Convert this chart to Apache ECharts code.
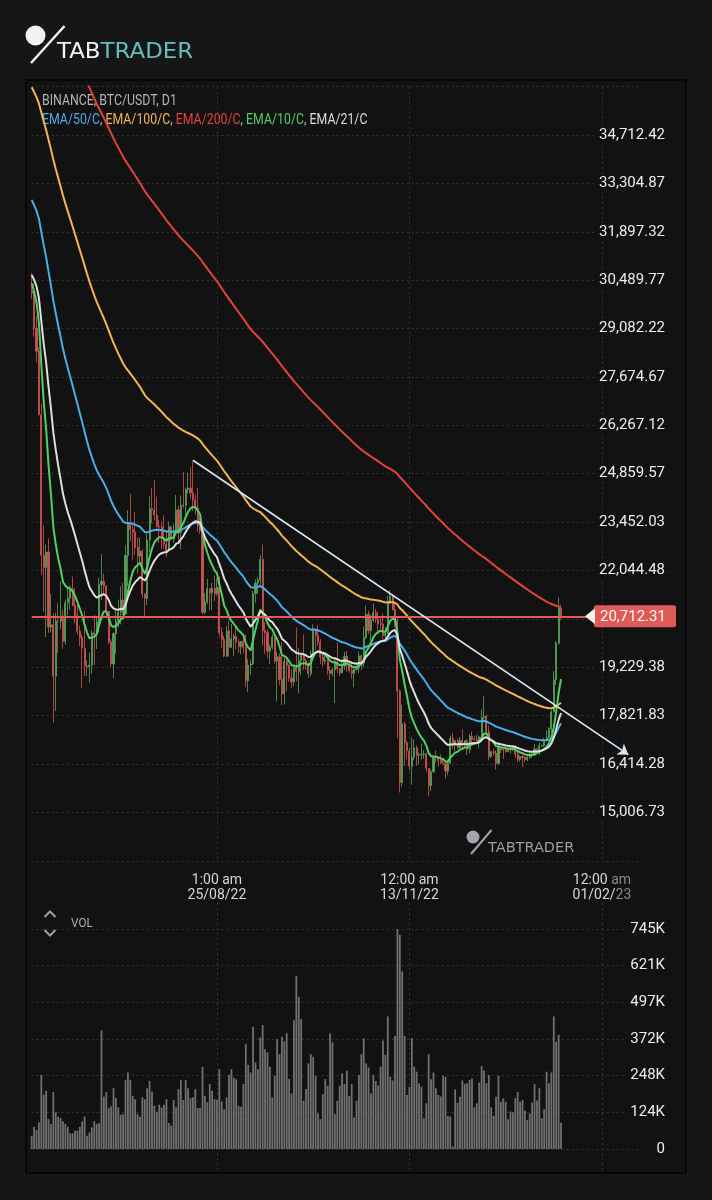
<!DOCTYPE html>
<html>
<head>
<meta charset="utf-8">
<title>BTC/USDT D1</title>
<script src="https://cdn.jsdelivr.net/npm/echarts@6.0.0/dist/echarts.min.js"></script>
<style>
html, body { margin: 0; padding: 0; background: #161616; }
#main { width: 712px; height: 1200px; }
</style>
</head>
<body>
<div id="main"></div>
<script>
// BINANCE BTC/USDT daily candles, 2022-06-09 .. 2023-01-15 (221 days)
var firstDay = '2022-06-09';
// category slots on the time axis, runs past the last candle to leave room on the right
var axisDays = 253;

var openPrices = [
    // Jun
    30186, 30109, 29091, 28424, 26574, 22487, 22136, 22583, 20401, 20468, 18970, 20574, 20573, 20723, 19987, 21110, 21237, 21491, 21038, 20742, 20281, 20104,
    // Jul
    19785, 19269, 19243, 19297, 20231, 20190, 20548, 21637, 21731, 21592, 20860, 19970, 19329, 20212, 20569, 20836, 21190, 20779, 22485, 23390, 23231, 23164, 22714, 22465, 22609, 21361, 21239, 22930, 23843, 23804, 23656,
    // Aug
    23336, 23314, 22978, 22818, 22622, 23312, 22954, 23175, 23810, 23149, 23954, 23934, 24403, 24441, 24305, 24094, 23854, 23342, 23191, 20834, 21140, 21516, 21399, 21529, 21368, 21560, 20241, 20037, 19555, 20285, 19811,
    // Sep
    20050, 20127, 19969, 19832, 19986, 19812, 18837, 19290, 19329, 21381, 21680, 21769, 22370, 20296, 20241, 19701, 19803, 20113, 19416, 19537, 18875, 18461, 19401, 19289, 18920, 18807, 19222, 19110, 19426, 19573,
    // Oct
    19431, 19312, 19044, 19623, 20336, 20160, 19955, 19531, 19417, 19446, 19141, 19051, 19157, 19382, 19185, 19067, 19268, 19550, 19334, 19139, 19053, 19172, 19207, 19567, 19345, 20095, 20771, 20295, 20595, 20818, 20635,
    // Nov
    20495, 20485, 20159, 20209, 21148, 21300, 20905, 20591, 18541, 15880, 17586, 17035, 16800, 16353, 16618, 16884, 16670, 16688, 16697, 16711, 16291, 15787, 16189, 16610, 16604, 16521, 16458, 16428, 16212, 16442,
    // Dec
    17163, 16977, 17092, 16885, 17105, 16966, 17088, 16836, 17224, 17128, 17127, 17085, 17209, 17774, 17803, 17356, 16632, 16776, 16738, 16438, 16895, 16824, 16821, 16778, 16837, 16832, 16919, 16706, 16547, 16633, 16607,
    // Jan
    16542, 16616, 16672, 16675, 16850, 16831, 16951, 16955, 17091, 17196, 17446, 17934, 18869, 19930, 20954
];

var highPrices = [
    30700, 30392, 29440, 28544, 26895, 23362, 22800, 22980, 21365, 20792, 20815, 21090, 21723, 20900, 21200, 21558, 21614, 21868, 21539, 21200, 20433, 20180,
    20877, 19432, 19657, 20311, 20751, 20675, 21838, 22527, 21956, 21607, 20868, 20048, 20250, 20885, 21200, 21588, 21684, 22777, 23800, 24276, 23440, 23757, 22998, 23014, 22660, 21380, 23100, 24200, 24442, 24668, 24196,
    23509, 23466, 23647, 23227, 23472, 23354, 23402, 24245, 23933, 24226, 24918, 24456, 24888, 25047, 25211, 24247, 24446, 23600, 23202, 21382, 21800, 21520, 21684, 21900, 21819, 21885, 20400, 20141, 20432, 20575, 20490,
    20208, 20444, 20055, 20000, 20058, 20180, 19464, 19450, 21450, 21790, 21860, 22488, 22799, 20545, 20330, 19890, 20189, 20114, 19689, 19634, 19956, 19500, 19500, 19316, 19180, 19310, 20385, 19790, 19644, 20185,
    19484, 19395, 19719, 20475, 20365, 20456, 20059, 19627, 19558, 19525, 19264, 19214, 19513, 19951, 19213, 19424, 19676, 19706, 19360, 19345, 19250, 19248, 19695, 19601, 20415, 21020, 20870, 20750, 21085, 20930, 20843,
    20700, 20800, 20393, 21302, 21480, 21365, 21069, 20700, 18590, 18136, 17655, 17075, 16883, 17190, 17134, 16960, 16750, 17010, 16820, 16750, 16300, 16253, 16677, 16812, 16612, 16700, 16600, 16483, 16548, 17249,
    17320, 17105, 17159, 17203, 17424, 17107, 17142, 17299, 17360, 17227, 17270, 17241, 18000, 18387, 17854, 17531, 16800, 16863, 16815, 17061, 16916, 16868, 16959, 16869, 16865, 16939, 16972, 16785, 16664, 16677, 16644,
    16628, 16760, 16785, 16991, 16879, 17041, 16981, 17176, 17398, 17491, 17992, 19117, 19994, 21258, 21050
];

var lowPrices = [
    29944, 28850, 28100, 26560, 21925, 20846, 20111, 20232, 20246, 17622, 17960, 19637, 20348, 19770, 19890, 20740, 20906, 21000, 20510, 20188, 19850, 18626,
    18975, 18978, 18781, 19038, 19304, 19761, 20240, 21189, 21322, 20655, 19910, 19240, 18910, 19621, 20385, 20478, 20756, 20762, 21579, 22906, 22341, 22500, 21950, 22257, 21250, 20706, 21042, 22578, 23415, 23500, 23229,
    22850, 22664, 22681, 22432, 22586, 22909, 22850, 23154, 22880, 22665, 23852, 23580, 24291, 24140, 23773, 23671, 23180, 23110, 20780, 20761, 21069, 20890, 20890, 21154, 21310, 20110, 19800, 19520, 19530, 19540, 19796,
    19565, 19754, 19655, 19600, 19636, 18650, 18510, 19000, 19300, 21111, 21355, 21557, 19860, 19617, 19497, 19320, 19748, 19336, 18232, 18711, 18125, 18150, 18531, 18805, 18629, 18680, 18816, 18471, 19000, 19155,
    19160, 18920, 18959, 19493, 19730, 19853, 19320, 19252, 19316, 19020, 18860, 18965, 18190, 19070, 18975, 19063, 19160, 19100, 19070, 18900, 18650, 19132, 19068, 19157, 19238, 20055, 20200, 20003, 20553, 20514, 20238,
    20344, 20050, 20032, 20181, 21080, 20880, 20384, 17166, 15588, 15754, 16361, 16552, 16232, 15815, 16530, 16365, 16405, 16550, 16570, 16180, 15476, 15625, 16165, 16458, 16355, 16410, 16400, 15995, 16100, 16428,
    16855, 16787, 16860, 16878, 16867, 16905, 16678, 16733, 17060, 17092, 17071, 16873, 17070, 17660, 17275, 16527, 16585, 16663, 16256, 16398, 16735, 16559, 16752, 16761, 16723, 16791, 16592, 16465, 16488, 16333, 16470,
    16499, 16572, 16605, 16647, 16753, 16673, 16908, 16911, 17080, 17163, 17318, 17914, 18715, 19889, 20600
];

var closePrices = [
    30109, 29091, 28424, 26574, 22487, 22136, 22583, 20401, 20468, 18970, 20574, 20573, 20723, 19987, 21110, 21237, 21491, 21038, 20742, 20281, 20104, 19785,
    19269, 19243, 19297, 20231, 20190, 20548, 21637, 21731, 21592, 20860, 19970, 19329, 20212, 20569, 20836, 21190, 20779, 22485, 23390, 23231, 23164, 22714, 22465, 22609, 21361, 21239, 22930, 23843, 23804, 23656, 23336,
    23314, 22978, 22818, 22622, 23312, 22954, 23175, 23810, 23149, 23954, 23934, 24403, 24441, 24305, 24094, 23854, 23342, 23191, 20834, 21140, 21516, 21399, 21529, 21368, 21560, 20241, 20037, 19555, 20285, 19811, 20050,
    20127, 19969, 19832, 19986, 19812, 18837, 19290, 19329, 21381, 21680, 21769, 22370, 20296, 20241, 19701, 19803, 20113, 19416, 19537, 18875, 18461, 19401, 19289, 18920, 18807, 19222, 19110, 19426, 19573, 19431,
    19312, 19044, 19623, 20336, 20160, 19955, 19531, 19417, 19446, 19141, 19051, 19157, 19382, 19185, 19067, 19268, 19550, 19334, 19139, 19053, 19172, 19207, 19567, 19345, 20095, 20771, 20295, 20595, 20818, 20635, 20495,
    20485, 20159, 20209, 21148, 21300, 20905, 20591, 18541, 15880, 17586, 17035, 16800, 16353, 16618, 16884, 16670, 16688, 16697, 16711, 16291, 15787, 16189, 16610, 16604, 16521, 16458, 16428, 16212, 16442, 17163,
    16977, 17092, 16885, 17105, 16966, 17088, 16836, 17224, 17128, 17127, 17085, 17209, 17774, 17803, 17356, 16632, 16776, 16738, 16438, 16895, 16824, 16821, 16778, 16837, 16832, 16919, 16706, 16547, 16633, 16607, 16542,
    16616, 16672, 16675, 16850, 16831, 16951, 16955, 17091, 17196, 17446, 17934, 18869, 19930, 20954, 20712.31
];

// volume in thousands of BTC
var volumeK = [
    45, 75, 64, 90, 251, 184, 197, 101, 85, 193, 124, 109, 105, 94, 85, 75, 53, 53, 62, 62, 75, 94,
    110, 45, 56, 73, 94, 85, 87, 402, 177, 192, 139, 145, 206, 172, 141, 116, 118, 233, 259, 234, 180, 168, 118, 109, 175, 168, 206, 231, 195, 146, 126,
    150, 141, 150, 169, 88, 79, 166, 141, 203, 233, 166, 233, 206, 172, 175, 203, 139, 139, 278, 180, 158, 220, 197, 169, 166, 270, 161, 135, 175, 251, 270,
    242, 236, 146, 143, 220, 355, 285, 259, 414, 293, 270, 378, 420, 338, 327, 278, 175, 248, 372, 321, 380, 365, 392, 237, 188, 436, 586, 516, 440, 163,
    203, 290, 321, 312, 248, 121, 101, 186, 237, 214, 391, 361, 118, 163, 214, 256, 220, 265, 180, 220, 107, 163, 251, 321, 375, 290, 276, 188, 251, 230, 215,
    279, 367, 319, 449, 245, 232, 383, 745, 726, 601, 383, 183, 210, 375, 279, 262, 223, 211, 104, 155, 321, 236, 259, 206, 183, 178, 248, 244, 112, 110,
    8, 202, 157, 177, 232, 220, 223, 234, 239, 141, 155, 225, 281, 266, 223, 251, 141, 112, 177, 248, 160, 172, 160, 101, 127, 124, 172, 193, 160, 166, 130,
    98, 121, 157, 220, 164, 206, 104, 135, 262, 223, 259, 449, 363, 387, 89
];

// moving averages
var ema10 = [
    30400, 30162, 29846, 29251, 28021, 26951, 26157, 25110, 24266, 23303, 22807, 22401, 22096, 21712, 21603, 21536, 21528, 21439, 21312, 21125, 20939, 20729,
    20464, 20242, 20070, 20099, 20116, 20195, 20457, 20689, 20853, 20854, 20693, 20445, 20403, 20433, 20506, 20631, 20658, 20990, 21426, 21754, 22011, 22139, 22198, 22273, 22107, 21949, 22128, 22439, 22688, 22864, 22949,
    23016, 23009, 22974, 22910, 22983, 22978, 23014, 23158, 23157, 23302, 23417, 23596, 23750, 23851, 23895, 23887, 23788, 23680, 23163, 22795, 22562, 22351, 22202, 22050, 21961, 21648, 21355, 21028, 20893, 20696, 20579,
    20497, 20401, 20298, 20241, 20163, 19922, 19807, 19720, 20022, 20323, 20586, 20910, 20798, 20697, 20516, 20386, 20336, 20169, 20054, 19840, 19589, 19555, 19507, 19400, 19292, 19279, 19248, 19280, 19333, 19351,
    19344, 19289, 19350, 19529, 19644, 19701, 19670, 19624, 19592, 19510, 19427, 19378, 19379, 19344, 19294, 19289, 19336, 19336, 19300, 19255, 19240, 19234, 19295, 19304, 19448, 19688, 19798, 19943, 20102, 20199, 20253,
    20295, 20270, 20259, 20421, 20581, 20640, 20631, 20251, 19456, 19116, 18738, 18386, 18016, 17762, 17602, 17433, 17297, 17188, 17101, 16954, 16742, 16641, 16635, 16630, 16610, 16583, 16555, 16492, 16483, 16607,
    16674, 16750, 16775, 16835, 16859, 16901, 16889, 16950, 16982, 17008, 17022, 17056, 17187, 17299, 17309, 17186, 17111, 17043, 16933, 16926, 16908, 16892, 16871, 16865, 16859, 16870, 16840, 16787, 16759, 16731, 16697,
    16682, 16680, 16679, 16710, 16732, 16772, 16805, 16857, 16919, 17015, 17182, 17489, 17933, 18482, 18887
];

var ema21 = [
    30640, 30499, 30310, 29970, 29290, 28640, 28089, 27390, 26761, 26053, 25555, 25102, 24704, 24275, 23987, 23737, 23533, 23306, 23073, 22819, 22572, 22319,
    22042, 21788, 21562, 21441, 21327, 21256, 21291, 21331, 21355, 21310, 21188, 21019, 20946, 20912, 20905, 20931, 20917, 21060, 21272, 21450, 21606, 21707, 21776, 21852, 21807, 21755, 21862, 22042, 22202, 22334, 22425,
    22506, 22549, 22573, 22578, 22645, 22673, 22719, 22818, 22848, 22949, 23039, 23163, 23279, 23372, 23438, 23476, 23464, 23439, 23202, 23015, 22879, 22744, 22634, 22519, 22432, 22233, 22033, 21808, 21670, 21501, 21369,
    21256, 21139, 21020, 20926, 20825, 20644, 20521, 20413, 20501, 20608, 20714, 20864, 20812, 20760, 20664, 20586, 20543, 20441, 20358, 20223, 20063, 20003, 19938, 19845, 19751, 19703, 19649, 19629, 19624, 19606,
    19579, 19531, 19539, 19611, 19661, 19688, 19674, 19651, 19632, 19588, 19539, 19504, 19493, 19465, 19429, 19414, 19426, 19418, 19393, 19362, 19345, 19332, 19353, 19353, 19420, 19543, 19611, 19701, 19802, 19878, 19934,
    19984, 20000, 20019, 20122, 20229, 20290, 20318, 20156, 19767, 19569, 19339, 19108, 18858, 18654, 18493, 18327, 18178, 18043, 17922, 17774, 17593, 17466, 17388, 17317, 17245, 17173, 17105, 17024, 16971, 16989,
    16988, 16997, 16987, 16998, 16995, 17003, 16988, 17010, 17021, 17030, 17035, 17051, 17117, 17179, 17195, 17144, 17111, 17077, 17019, 17008, 16991, 16976, 16958, 16947, 16937, 16935, 16914, 16881, 16858, 16835, 16808,
    16791, 16780, 16771, 16778, 16783, 16798, 16812, 16838, 16870, 16923, 17015, 17183, 17433, 17700, 17900
];

var ema50 = [
    32821, 32675, 32508, 32275, 31891, 31509, 31159, 30737, 30334, 29889, 29524, 29173, 28842, 28495, 28205, 27932, 27680, 27420, 27158, 26888, 26622, 26354,
    26076, 25808, 25553, 25344, 25142, 24962, 24832, 24710, 24588, 24442, 24267, 24073, 23922, 23791, 23675, 23578, 23468, 23429, 23427, 23419, 23409, 23382, 23346, 23317, 23240, 23162, 23153, 23180, 23204, 23222, 23226,
    23229, 23219, 23203, 23180, 23185, 23176, 23176, 23201, 23199, 23229, 23257, 23302, 23347, 23385, 23413, 23430, 23427, 23418, 23317, 23232, 23165, 23096, 23035, 22970, 22915, 22810, 22701, 22578, 22488, 22383, 22292,
    22207, 22119, 22029, 21949, 21865, 21746, 21650, 21559, 21552, 21557, 21565, 21597, 21546, 21495, 21425, 21361, 21312, 21238, 21171, 21081, 20978, 20916, 20852, 20776, 20699, 20641, 20581, 20536, 20498, 20456,
    20411, 20357, 20328, 20328, 20321, 20307, 20277, 20243, 20212, 20170, 20126, 20088, 20060, 20026, 19988, 19960, 19944, 19920, 19889, 19856, 19829, 19805, 19796, 19778, 19790, 19829, 19847, 19876, 19913, 19941, 19963,
    19983, 19990, 19999, 20044, 20093, 20125, 20143, 20080, 19915, 19824, 19715, 19601, 19474, 19362, 19265, 19163, 19066, 18973, 18884, 18782, 18665, 18568, 18491, 18417, 18343, 18269, 18197, 18119, 18053, 18018,
    17977, 17942, 17901, 17870, 17835, 17806, 17768, 17747, 17723, 17700, 17676, 17658, 17662, 17668, 17656, 17616, 17583, 17550, 17506, 17482, 17456, 17431, 17405, 17383, 17361, 17344, 17319, 17289, 17263, 17237, 17210,
    17187, 17167, 17148, 17136, 17124, 17117, 17111, 17110, 17113, 17126, 17158, 17225, 17331, 17473, 17600
];

var ema100 = [
    36100, 35961, 35812, 35629, 35369, 35107, 34859, 34573, 34294, 33991, 33725, 33465, 33213, 32951, 32717, 32490, 32272, 32050, 31826, 31597, 31369, 31140,
    30905, 30674, 30449, 30247, 30048, 29860, 29697, 29539, 29382, 29213, 29030, 28838, 28667, 28507, 28355, 28213, 28066, 27956, 27866, 27774, 27683, 27585, 27484, 27387, 27268, 27149, 27065, 27001, 26938, 26873, 26803,
    26734, 26660, 26584, 26506, 26443, 26374, 26311, 26261, 26199, 26155, 26111, 26077, 26045, 26011, 25973, 25931, 25880, 25827, 25728, 25637, 25555, 25473, 25395, 25315, 25241, 25142, 25041, 24932, 24840, 24740, 24647,
    24558, 24467, 24375, 24288, 24199, 24093, 23998, 23906, 23856, 23813, 23773, 23745, 23677, 23609, 23532, 23458, 23392, 23313, 23238, 23152, 23059, 22987, 22914, 22835, 22755, 22685, 22614, 22551, 22492, 22431,
    22369, 22303, 22250, 22212, 22171, 22127, 22076, 22023, 21972, 21916, 21859, 21806, 21758, 21707, 21655, 21608, 21567, 21523, 21476, 21428, 21383, 21340, 21305, 21266, 21243, 21234, 21215, 21203, 21195, 21184, 21170,
    21156, 21136, 21118, 21119, 21123, 21119, 21109, 21058, 20955, 20888, 20812, 20733, 20646, 20566, 20493, 20417, 20343, 20271, 20201, 20124, 20038, 19962, 19896, 19831, 19765, 19700, 19635, 19567, 19505, 19459,
    19410, 19364, 19315, 19271, 19225, 19183, 19137, 19099, 19060, 19022, 18984, 18949, 18926, 18904, 18873, 18829, 18788, 18747, 18701, 18665, 18629, 18593, 18557, 18523, 18490, 18459, 18424, 18387, 18352, 18317, 18282,
    18249, 18218, 18187, 18161, 18135, 18112, 18089, 18069, 18052, 18040, 18038, 18054, 18091, 18148, 18199
];

var ema200 = [
    '-', '-', '-', '-', '-', '-', '-', '-', '-', '-', '-', '-', '-', '-', '-', '-', '-', '-', 37104, 36937, 36769, 36600,
    36428, 36257, 36088, 35930, 35773, 35622, 35483, 35346, 35209, 35066, 34916, 34761, 34616, 34476, 34340, 34209, 34075, 33960, 33855, 33749, 33644, 33535, 33425, 33317, 33198, 33079, 32978, 32887, 32797, 32706, 32613,
    32520, 32425, 32329, 32232, 32143, 32052, 31964, 31883, 31796, 31718, 31641, 31569, 31498, 31426, 31353, 31278, 31199, 31119, 31017, 30919, 30825, 30731, 30639, 30547, 30458, 30356, 30253, 30147, 30049, 29947, 29849,
    29752, 29655, 29557, 29462, 29366, 29261, 29162, 29064, 28988, 28915, 28844, 28780, 28696, 28612, 28523, 28436, 28353, 28264, 28177, 28084, 27988, 27903, 27817, 27728, 27639, 27555, 27471, 27391, 27313, 27235,
    27156, 27075, 27001, 26935, 26868, 26799, 26727, 26654, 26582, 26508, 26434, 26362, 26293, 26222, 26151, 26083, 26018, 25951, 25883, 25815, 25749, 25684, 25623, 25561, 25507, 25460, 25409, 25361, 25316, 25269, 25221,
    25174, 25124, 25075, 25036, 24999, 24958, 24915, 24852, 24763, 24692, 24616, 24538, 24457, 24379, 24304, 24228, 24153, 24079, 24006, 23929, 23848, 23772, 23701, 23630, 23559, 23488, 23418, 23346, 23277, 23216,
    23154, 23094, 23032, 22973, 22913, 22855, 22795, 22740, 22684, 22629, 22574, 22521, 22474, 22428, 22377, 22320, 22265, 22210, 22153, 22101, 22049, 21997, 21945, 21894, 21844, 21795, 21744, 21692, 21642, 21592, 21542,
    21493, 21445, 21398, 21353, 21308, 21265, 21222, 21181, 21141, 21104, 21072, 21050, 21020, 21000, 20990
];

var emaNames = ['EMA/50/C', 'EMA/100/C', 'EMA/200/C', 'EMA/10/C', 'EMA/21/C'];
var emaColors = ['#48aee8', '#f5b452', '#e2433a', '#4fd164', '#dedede'];
var emaValues = [ema50, ema100, ema200, ema10, ema21];

// price axis ticks
var priceMin = 13599.18;
var priceMax = 36119.96;
var priceStep = 1407.549;
var priceTickLabels = ['', '15,006.73', '16,414.28', '17,821.83', '19,229.38', '', '22,044.48', '23,452.03',
    '24,859.57', '26,267.12', '27,674.67', '29,082.22', '30,489.77', '31,897.32', '33,304.87', '34,712.42'];

// volume axis ticks (thousands)
var volMax = 745;
var volTickLabels = ['0', '124K', '248K', '372K', '497K', '621K', '745K'];

// time axis labels
var timeTicks = ['2022-08-25', '2022-11-13', '2023-02-01'];
var timeTickHours = ['1:00 am', '12:00 am', '12:00 am'];
var timeTickDates = ['25/08/22', '13/11/22', '01/02/23'];

// hand drawn trend line
var trendStart = ['2022-08-15', 25250];
var trendEnd = ['2023-02-12', 16690];

//check array lengths
[openPrices, highPrices, lowPrices, closePrices, volumeK, ema10, ema21, ema50, ema100, ema200].forEach(function (a, i) {
    if (a.length !== closePrices.length) {
        throw new Error('array ' + i + ' has ' + a.length + ' values, expected ' + closePrices.length);
    }
});

function buildDays(start, n) {
    var t0 = Date.parse(start + 'T00:00:00Z');
    var out = [];
    for (var i = 0; i < n; i++) {
        out.push(new Date(t0 + i * 86400000).toISOString().slice(0, 10));
    }
    return out;
}

var days = buildDays(firstDay, axisDays);

var candleData = [];
for (var i = 0; i < closePrices.length; i++) {
    candleData.push([openPrices[i], closePrices[i], lowPrices[i], highPrices[i]]);
}
var lastPrice = closePrices[closePrices.length - 1];

function isTimeTick(index, value) {
    return timeTicks.indexOf(value) >= 0;
}

function timeLabel(value) {
    var k = timeTicks.indexOf(value);
    if (k < 0) return '';
    var h = timeTickHours[k], d = timeTickDates[k];
    if (k === timeTicks.length - 1) {
        // last label fades out at the right edge
        return '{a|' + h.slice(0, -2) + '}{f|' + h.slice(-2) + '}\n{a|' + d.slice(0, -2) + '}{f|' + d.slice(-2) + '}';
    }
    return '{a|' + h + '}\n{a|' + d + '}';
}

var gridLine = { color: '#363636', width: 1, type: [2, 3] };
var gridLeft = 31.7, gridRight = 74;

var emaRich = {};
var emaText = '';
for (var e = 0; e < emaNames.length; e++) {
    emaRich['e' + e] = { fill: emaColors[e] };
    emaText += '{e' + e + '|' + emaNames[e] + '}' + (e < emaNames.length - 1 ? '{s|, }' : '');
}
emaRich.s = { fill: '#b4b4b4' };

var graphics = [
    { type: 'rect', id: 'panel', z: -10, silent: true, shape: { x: 26, y: 80, width: 660, height: 1093 }, style: { fill: '#121212', stroke: '#070707', lineWidth: 2 } },
    // logo
    { type: 'circle', id: 'logoDot', shape: { cx: 35.5, cy: 35.5, r: 10 }, style: { fill: '#f2f2f2' } },
    { type: 'line', id: 'logoSlash', shape: { x1: 64.5, y1: 26, x2: 31, y2: 63 }, style: { stroke: '#f2f2f2', lineWidth: 2.5 } },
    { type: 'text', id: 'logoText', x: 57, y: 53, scaleX: 1.09, style: { text: '{w|TAB}{t|TRADER}', font: '21px "DejaVu Sans"', verticalAlign: 'middle', rich: { w: { fill: '#f2f2f2' }, t: { fill: '#67bcbc' } } } },
    // header
    { type: 'text', id: 'symbol', x: 42, y: 101, scaleX: 0.88, style: { text: 'BINANCE, BTC/USDT, D1', font: '14px Roboto', fill: '#b4b4b4', verticalAlign: 'middle' } },
    { type: 'text', id: 'emaList', x: 42, y: 120, scaleX: 0.88, style: { text: emaText, font: '14px Roboto', verticalAlign: 'middle', rich: emaRich } },
    // watermark
    { type: 'circle', id: 'wmDot', shape: { cx: 473, cy: 837, r: 6.5 }, style: { fill: '#a4a4ac' } },
    { type: 'line', id: 'wmSlash', shape: { x1: 491.5, y1: 830, x2: 471, y2: 854 }, style: { stroke: '#a4a4ac', lineWidth: 2 } },
    { type: 'text', id: 'wmText', x: 488, y: 848.5, style: { text: 'TABTRADER', font: '14.5px "DejaVu Sans"', fill: '#9d9da5', verticalAlign: 'middle' } },
    // volume pane title
    { type: 'polyline', id: 'volUp', shape: { points: [[44.5, 917], [50, 911.5], [55.5, 917]] }, style: { stroke: '#a0a0a0', lineWidth: 2, fill: null } },
    { type: 'polyline', id: 'volDown', shape: { points: [[44.5, 930], [50, 935.5], [55.5, 930]] }, style: { stroke: '#a0a0a0', lineWidth: 2, fill: null } },
    { type: 'text', id: 'volText', x: 71, y: 924, scaleX: 0.9, style: { text: 'VOL', font: '13px Roboto', fill: '#b0b0b0', verticalAlign: 'middle' } }
];

var series = [
    {
        type: 'candlestick',
        xAxisIndex: 0,
        yAxisIndex: 0,
        data: candleData,
        barWidth: 1.6,
        silent: true,
        itemStyle: { color: '#58a35c', color0: '#cd5552', borderColor: '#58a35c', borderColor0: '#cd5552', borderWidth: 0.8 },
        markLine: {
            silent: true,
            symbol: ['none', 'none'],
            label: { show: false },
            lineStyle: { color: '#e05b58', width: 2, type: 'solid' },
            data: [{ yAxis: lastPrice }]
        }
    }
];

for (var s = 0; s < emaValues.length; s++) {
    series.push({
        name: emaNames[s],
        type: 'line',
        xAxisIndex: 0,
        yAxisIndex: 0,
        data: emaValues[s],
        showSymbol: false,
        symbol: 'none',
        silent: true,
        z: 3,
        lineStyle: { color: emaColors[s], width: 2 },
        itemStyle: { color: emaColors[s] }
    });
}

// trend line with arrow head, on top of everything
series[series.length - 1].markLine = {
    silent: true,
    symbol: ['none', 'arrow'],
    symbolSize: 10,
    label: { show: false },
    lineStyle: { color: '#d4e6f3', width: 1.7, type: 'solid' },
    data: [[{ coord: trendStart }, { coord: trendEnd }]]
};

series.push({
    type: 'bar',
    xAxisIndex: 1,
    yAxisIndex: 1,
    data: volumeK,
    barWidth: 1.8,
    silent: true,
    itemStyle: { color: '#707070' }
});

var chart = echarts.init(document.getElementById('main'), null, { renderer: 'canvas' });

var option = {
    backgroundColor: '#161616',
    animation: false,
    textStyle: { fontFamily: 'Roboto' },
    grid: [
        { left: gridLeft, right: gridRight, top: 86.6, bottom: 339.1, outerBoundsMode: 'none' },
        { left: gridLeft, right: gridRight, top: 929, bottom: 51, outerBoundsMode: 'none' },
        { left: gridLeft, right: gridRight, top: 903, bottom: 28, outerBoundsMode: 'none' }
    ],
    xAxis: [
        {
            type: 'category', gridIndex: 0, data: days, boundaryGap: false,
            axisLine: { show: false }, axisTick: { show: false },
            axisLabel: {
                interval: isTimeTick, formatter: timeLabel, margin: 12,
                rich: {
                    a: { color: '#d6d6d6', fontSize: 14, lineHeight: 15, fontFamily: 'Roboto' },
                    f: { color: '#8a8a8a', fontSize: 14, lineHeight: 15, fontFamily: 'Roboto' }
                }
            },
            splitLine: { show: true, interval: isTimeTick, lineStyle: gridLine }
        },
        {
            type: 'category', gridIndex: 1, data: days, boundaryGap: false,
            axisLine: { show: false }, axisTick: { show: false }, axisLabel: { show: false },
            splitLine: { show: false }
        },
        {
            type: 'category', gridIndex: 2, data: days, boundaryGap: false,
            axisLine: { show: false }, axisTick: { show: false }, axisLabel: { show: false },
            splitLine: { show: true, interval: isTimeTick, lineStyle: gridLine }
        }
    ],
    yAxis: [
        {
            type: 'value', gridIndex: 0, position: 'right',
            min: priceMin, max: priceMax, interval: priceStep,
            axisLine: { show: false }, axisTick: { show: false },
            axisLabel: {
                color: '#ececec', fontSize: 15, fontFamily: 'Roboto', align: 'right', margin: 29,
                showMinLabel: false, showMaxLabel: false,
                backgroundColor: '#121212', padding: [1, 2, 1, 4],
                formatter: function (v) {
                    var k = Math.round((v - priceMin) / priceStep);
                    return priceTickLabels[k] || '';
                }
            },
            splitLine: { show: true, lineStyle: gridLine }
        },
        {
            type: 'value', gridIndex: 1, position: 'right',
            min: 0, max: volMax, interval: volMax / 6,
            axisLine: { show: false }, axisTick: { show: false },
            axisLabel: {
                color: '#ececec', fontSize: 15, fontFamily: 'Roboto', align: 'right', margin: 29,
                backgroundColor: '#121212', padding: [1, 2, 1, 4],
                formatter: function (v) {
                    var k = Math.round(v / (volMax / 6));
                    return volTickLabels[k] || '';
                }
            },
            splitLine: { show: true, lineStyle: gridLine }
        },
        { type: 'value', gridIndex: 2, show: false }
    ],
    graphic: graphics,
    series: series
};

chart.setOption(option);

// current price tag on the right, placed through the price axis
var tagY = chart.convertToPixel({ yAxisIndex: 0 }, lastPrice);
var tagText = lastPrice.toLocaleString('en-US', { minimumFractionDigits: 2, maximumFractionDigits: 2 });
chart.setOption({
    graphic: [
        { type: 'rect', id: 'tagBox', z: 20, shape: { x: 594, y: tagY - 11, width: 82, height: 22, r: 2 }, style: { fill: '#e05b58' } },
        { type: 'polygon', id: 'tagArrow', z: 21, shape: { points: [[585, tagY], [595, tagY - 8], [595, tagY + 8]] }, style: { fill: '#f0f0f0' } },
        { type: 'text', id: 'tagText', z: 21, x: 600, y: tagY + 0.5, style: { text: tagText, font: '15px Roboto', fill: '#ffffff', verticalAlign: 'middle' } }
    ]
});
</script>
</body>
</html>
